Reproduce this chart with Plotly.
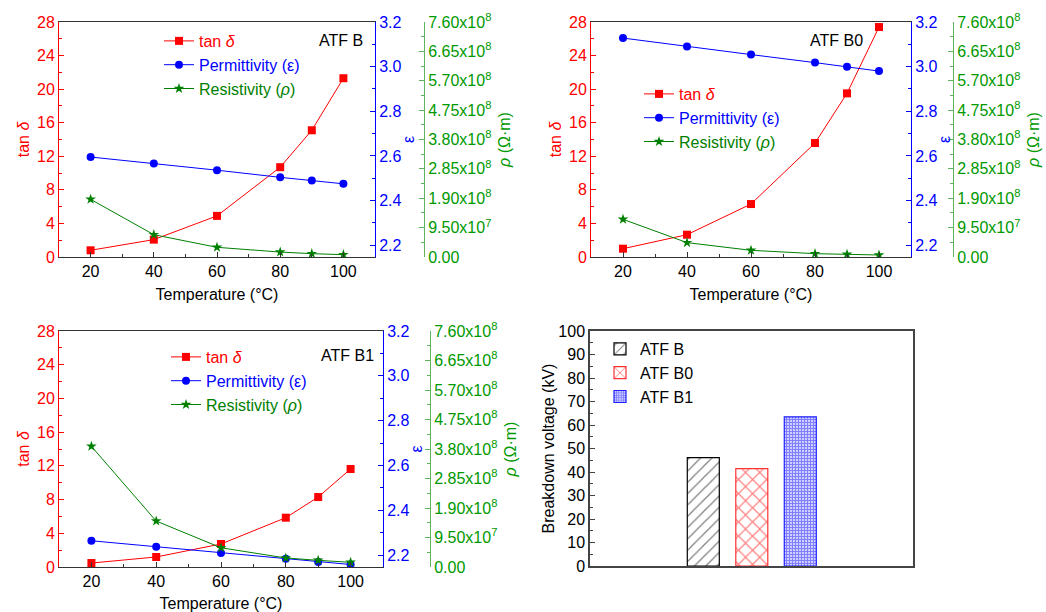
import plotly.graph_objects as go

# ---------------- data ----------------
temperature = [20, 40, 60, 80, 90, 100]

tan_B = [0.8, 2.07, 4.9, 10.7, 15.1, 21.3]
eps_B = [2.595, 2.566, 2.536, 2.504, 2.49, 2.475]
rho_B = [1.865e8, 0.722e8, 0.313e8, 0.16e8, 0.108e8, 0.075e8]

tan_B0 = [0.99, 2.66, 6.31, 13.58, 19.5, 27.4]
eps_B0 = [3.128, 3.09, 3.054, 3.018, 2.999, 2.98]
rho_B0 = [1.218e8, 0.464e8, 0.216e8, 0.108e8, 0.086e8, 0.065e8]

tan_B1 = [0.47, 1.19, 2.73, 5.85, 8.3, 11.63]
eps_B1 = [2.264, 2.237, 2.21, 2.184, 2.169, 2.158]
rho_B1 = [3.886e8, 1.48e8, 0.62e8, 0.29e8, 0.215e8, 0.15e8]

samples = ["ATF B", "ATF B0", "ATF B1"]
breakdown = [46.1, 41.4, 63.5]

rho_tickvals = [0, 0.95e8, 1.9e8, 2.85e8, 3.8e8, 4.75e8, 5.7e8, 6.65e8, 7.6e8]
rho_ticktext = ["0.00", "9.50x10<sup>7</sup>", "1.90x10<sup>8</sup>", "2.85x10<sup>8</sup>",
                "3.80x10<sup>8</sup>", "4.75x10<sup>8</sup>", "5.70x10<sup>8</sup>",
                "6.65x10<sup>8</sup>", "7.60x10<sup>8</sup>"]
eps_tickvals = [2.2, 2.4, 2.6, 2.8, 3.0, 3.2]
eps_ticktext = ["2.2", "2.4", "2.6", "2.8", "3.0", "3.2"]

# ---------------- style ----------------
W, H = 1046, 612
FONT = "Liberation Sans, Arial, sans-serif"
RED, BLUE, GREEN = "#FF0000", "#0000FF", "#008000"
GREEN_LINE = "#5FB35F"
AX = "#333333"
FS = 16


def fx(p):
    return p / W


def fy(p):
    return 1 - p / H


fig = go.Figure()

panels = [
    dict(label="ATF B", xd=(59, 375), yd=(22, 257), gpos=424,
         tan=tan_B, eps=eps_B, rho=rho_B, leg=(159, 24), lab=(341, 41)),
    dict(label="ATF B0", xd=(591, 911), yd=(22, 257), gpos=953,
         tan=tan_B0, eps=eps_B0, rho=rho_B0, leg=(639, 77), lab=(836, 41)),
    dict(label="ATF B1", xd=(59, 383), yd=(331, 567), gpos=430,
         tan=tan_B1, eps=eps_B1, rho=rho_B1, leg=(166, 340), lab=(347, 355)),
]

layout = dict(
    width=W, height=H, template="none",
    margin=dict(l=0, r=0, t=0, b=0, autoexpand=False),
    paper_bgcolor="white", plot_bgcolor="rgba(0,0,0,0)",
    font=dict(family=FONT, size=FS, color="black"),
    showlegend=True, barmode="overlay",
)

annotations = []
for i, p in enumerate(panels):
    xi = i + 1
    xname = "xaxis" if xi == 1 else f"xaxis{xi}"
    xref = "x" if xi == 1 else f"x{xi}"
    ya = 3 * i + 1
    yb = 3 * i + 2
    yc = 3 * i + 3
    yname_a = "yaxis" if ya == 1 else f"yaxis{ya}"
    yref_a = "y" if ya == 1 else f"y{ya}"
    legname = "legend" if i == 0 else f"legend{i + 1}"

    xdom = [fx(p["xd"][0]), fx(p["xd"][1])]
    ydom = [fy(p["yd"][1]), fy(p["yd"][0])]

    layout[xname] = dict(
        domain=xdom, anchor=yref_a, range=[10, 110], tickmode="linear", tick0=20, dtick=20,
        ticks="inside", ticklen=5, tickcolor=AX, showline=True, linecolor=AX, linewidth=1,
        mirror=True, showgrid=False, zeroline=False, automargin=False,
        tickfont=dict(size=FS, color="black"),
        title=dict(text="Temperature (°C)", font=dict(size=FS), standoff=9),
        minor=dict(ticks="inside", ticklen=3, dtick=10, tick0=0, tickcolor=AX, showgrid=False),
    )
    layout[yname_a] = dict(
        domain=ydom, anchor=xref, range=[0, 28], tickmode="linear", tick0=0, dtick=4,
        ticks="inside", ticklen=5, tickcolor=RED, showline=True, linecolor=RED, linewidth=1,
        showgrid=False, zeroline=False, automargin=False,
        tickfont=dict(size=FS, color=RED),
        title=dict(text="tan <i>δ</i>", font=dict(size=FS, color=RED), standoff=3),
        minor=dict(ticks="inside", ticklen=3, dtick=2, tick0=0, tickcolor=RED, showgrid=False),
    )
    layout[f"yaxis{yb}"] = dict(
        overlaying=yref_a, anchor=xref, side="right", range=[2.147, 3.2],
        tickmode="array", tickvals=eps_tickvals, ticktext=eps_ticktext,
        ticks="inside", ticklen=5, tickcolor=BLUE, showline=True, linecolor=BLUE, linewidth=1,
        showgrid=False, zeroline=False, automargin=False,
        tickfont=dict(size=FS, color=BLUE),
        title=dict(text="ε", font=dict(size=FS, color=BLUE), standoff=2),
        minor=dict(ticks="inside", ticklen=3, tickmode="linear", dtick=0.1, tick0=2.2,
                   tickcolor=BLUE, showgrid=False),
    )
    layout[f"yaxis{yc}"] = dict(
        overlaying=yref_a, anchor="free", position=fx(p["gpos"]), side="right",
        range=[0, 7.6e8], tickmode="array", tickvals=rho_tickvals, ticktext=rho_ticktext,
        ticks="inside", ticklen=5, tickcolor=GREEN_LINE, showline=True, linecolor=GREEN_LINE,
        linewidth=1, showgrid=False, zeroline=False, automargin=False,
        tickfont=dict(size=FS, color="#009900"),
        title=dict(text="<i>ρ</i> (Ω·m)", font=dict(size=FS, color="#009900"), standoff=8),
        minor=dict(ticks="inside", ticklen=3, tickmode="linear", dtick=0.475e8, tick0=0,
                   tickcolor=GREEN_LINE, showgrid=False),
    )
    layout[legname] = dict(
        x=fx(p["leg"][0]), y=fy(p["leg"][1]), xanchor="left", yanchor="top",
        bgcolor="rgba(0,0,0,0)", borderwidth=0, font=dict(size=FS),
        itemwidth=30, tracegroupgap=0,
    )

    fig.add_trace(go.Scatter(
        x=temperature, y=p["tan"], xaxis=xref, yaxis=yref_a, mode="lines+markers",
        name='<span style="color:#FF0000">tan <i>δ</i></span>', legend=legname,
        line=dict(color=RED, width=1), marker=dict(symbol="square", size=8, color=RED),
    ))
    fig.add_trace(go.Scatter(
        x=temperature, y=p["eps"], xaxis=xref, yaxis=f"y{yb}", mode="lines+markers",
        name='<span style="color:#0000FF">Permittivity (ε)</span>', legend=legname,
        line=dict(color=BLUE, width=1), marker=dict(symbol="circle", size=8, color=BLUE),
    ))
    fig.add_trace(go.Scatter(
        x=temperature, y=p["rho"], xaxis=xref, yaxis=f"y{yc}", mode="lines+markers",
        name='<span style="color:#008000">Resistivity (<i>ρ</i>)</span>', legend=legname,
        line=dict(color=GREEN, width=1), marker=dict(symbol="star", size=8, color=GREEN),
    ))

    annotations.append(dict(
        x=fx(p["lab"][0]), y=fy(p["lab"][1]), xref="paper", yref="paper",
        text=p["label"], showarrow=False, font=dict(size=FS, color="black"),
        xanchor="center", yanchor="middle",
    ))

# ---------------- bar panel ----------------
layout["xaxis4"] = dict(
    domain=[fx(590), fx(913)], anchor="y10", type="category", categoryarray=samples,
    range=[-2.336, 4.324], showticklabels=False, ticks="", showline=True, linecolor="#444444",
    linewidth=1.5, mirror=True, showgrid=False, zeroline=False, automargin=False,
)
layout["yaxis10"] = dict(
    domain=[fy(566), fy(331)], anchor="x4", range=[0, 100], tickmode="linear", tick0=0, dtick=10,
    ticks="inside", ticklen=5, tickcolor="#444444", showline=True, linecolor="#444444",
    linewidth=1.5, mirror=True, showgrid=False, zeroline=False, automargin=False,
    tickfont=dict(size=FS, color="black"),
    title=dict(text="Breakdown voltage (kV)", font=dict(size=FS), standoff=0),
    minor=dict(ticks="inside", ticklen=3, dtick=5, tick0=0, tickcolor="#444444", showgrid=False),
)
layout["legend4"] = dict(
    x=fx(600), y=fy(332), xanchor="left", yanchor="top", bgcolor="rgba(0,0,0,0)",
    borderwidth=0, font=dict(size=FS), tracegroupgap=0,
)

bar_styles = [
    dict(line="black", fg="black", shape="/", size=8, solidity=0.15),
    dict(line="#FF3030", fg="#FF0000", shape="x", size=10, solidity=0.22),
    dict(line="#2020FF", fg="#0000FF", shape="+", size=3, solidity=0.7),
]
for s, v, st in zip(samples, breakdown, bar_styles):
    fig.add_trace(go.Bar(
        x=[s], y=[v], xaxis="x4", yaxis="y10", name=s, legend="legend4", width=0.66,
        marker=dict(color="white", line=dict(color=st["line"], width=1.2),
                    pattern=dict(shape=st["shape"], fgcolor=st["fg"], bgcolor="white",
                                 size=st["size"], solidity=st["solidity"], fillmode="overlay")),
    ))

layout["annotations"] = annotations
fig.update_layout(**layout)
fig.write_html("out.html")
